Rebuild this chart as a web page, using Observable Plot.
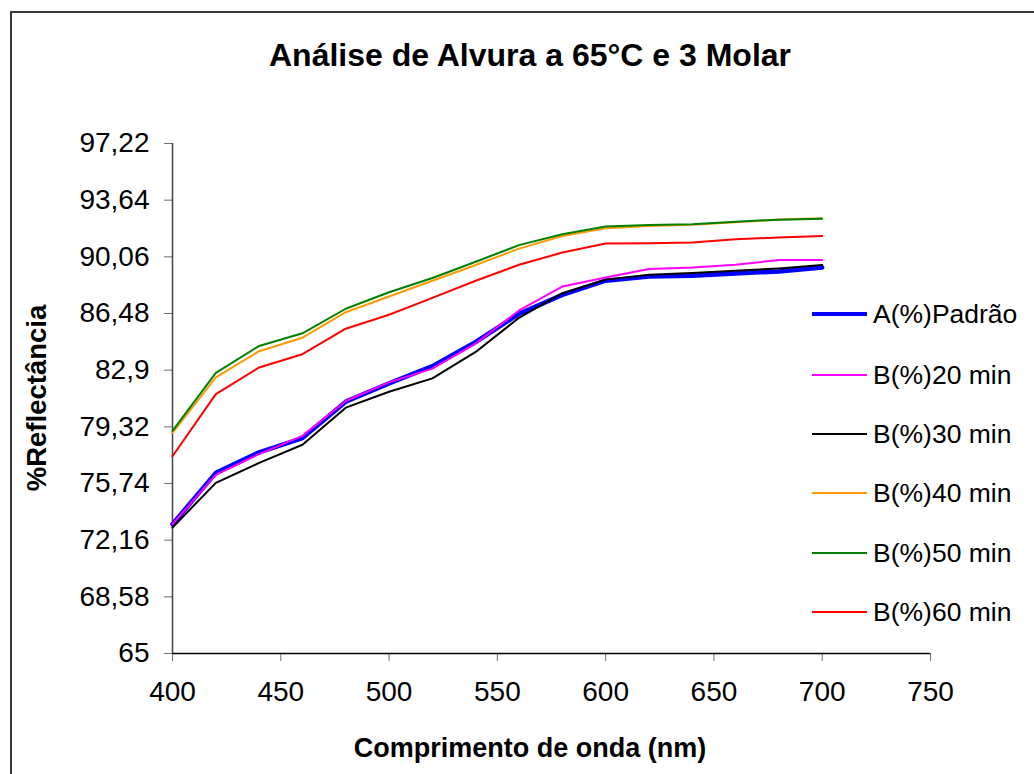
<!DOCTYPE html>
<html>
<head>
<meta charset="utf-8">
<script src="https://cdn.jsdelivr.net/npm/d3@7"></script>
<script src="https://cdn.jsdelivr.net/npm/@observablehq/plot@0.6"></script>
<style>
  html, body { margin: 0; padding: 0; background: #fff; overflow: hidden; }
  #wrap { position: relative; width: 1034px; height: 774px; font-family: "Liberation Sans", Arial, sans-serif; color: #000; }
  #wrap svg { position: absolute; left: 0; top: 0; overflow: visible; }
  .frame { position: absolute; left: 10px; top: 11px; width: 1100px; height: 900px; border: 2px solid #3a3a3a; box-sizing: border-box; pointer-events: none; }
  .title { position: absolute; left: 0; width: 1060px; top: 36px; text-align: center; font-weight: bold; font-size: 32px; line-height: 38px; white-space: nowrap; }
  .xlab { position: absolute; left: 0; width: 1060px; top: 733px; text-align: center; font-weight: bold; font-size: 27px; line-height: 30px; white-space: nowrap; }
  .ylab { position: absolute; left: 37px; top: 398px; transform: translate(-50%, -50%) rotate(-90deg); font-weight: bold; font-size: 27.5px; line-height: 30px; white-space: nowrap; }
  .leg { position: absolute; left: 812px; height: 30px; display: flex; align-items: center; font-size: 26.5px; white-space: nowrap; }
  .leg span.sw { display: inline-block; width: 55px; margin-right: 6px; }
</style>
</head>
<body>
<div id="wrap"></div>
<script>
// ---- data ----
const wavelengths = [400, 420, 440, 460, 480, 500, 520, 540, 560, 580, 600, 620, 640, 660, 680, 700];
const seriesNames = ["A(%)Padrão", "B(%)20 min", "B(%)30 min", "B(%)40 min", "B(%)50 min", "B(%)60 min"];
const seriesColors = ["#0000ff", "#ff00ff", "#000000", "#ff9900", "#008000", "#ff0000"];
const padrao = [73.17, 76.41, 77.71, 78.61, 80.91, 82.07, 83.15, 84.68, 86.46, 87.66, 88.55, 88.81, 88.87, 89.01, 89.14, 89.39];
const b20min = [73.17, 76.29, 77.60, 78.75, 80.95, 82.13, 83.00, 84.58, 86.67, 88.18, 88.76, 89.29, 89.39, 89.56, 89.86, 89.86];
const b30min = [72.96, 75.78, 77.04, 78.19, 80.53, 81.54, 82.38, 84.05, 86.21, 87.76, 88.62, 88.93, 89.04, 89.18, 89.33, 89.54];
const b40min = [78.93, 82.44, 84.10, 84.95, 86.56, 87.55, 88.55, 89.54, 90.58, 91.38, 91.87, 92.00, 92.08, 92.25, 92.42, 92.50];
const b50min = [79.07, 82.73, 84.43, 85.23, 86.78, 87.82, 88.72, 89.75, 90.80, 91.49, 91.97, 92.07, 92.12, 92.28, 92.41, 92.47];
const b60min = [77.46, 81.39, 83.07, 83.91, 85.52, 86.40, 87.47, 88.55, 89.56, 90.33, 90.90, 90.92, 90.96, 91.17, 91.28, 91.38];
const xTicks = [400, 450, 500, 550, 600, 650, 700, 750];
const yTicks = [65, 68.58, 72.16, 75.74, 79.32, 82.9, 86.48, 90.06, 93.64, 97.22];
const yTickLabels = ["65", "68,58", "72,16", "75,74", "79,32", "82,9", "86,48", "90,06", "93,64", "97,22"];
const titleText = "Análise de Alvura a 65°C e 3 Molar";
const xTitle = "Comprimento de onda (nm)";
const yTitle = "%Reflectância";

// ---- build ----
const seriesValues = [padrao, b20min, b30min, b40min, b50min, b60min];
const widths = [4.5, 2, 2, 2, 2, 2];
const legendWidths = [4, 2, 2, 2, 2, 2];
const rows = [];
seriesNames.forEach((name, s) => wavelengths.forEach((w, i) => rows.push({series: name, x: w, y: seriesValues[s][i]})));

const lineMarks = seriesNames.map((name, s) =>
  Plot.line(rows.filter(d => d.series === name), {x: "x", y: "y", stroke: "series", strokeWidth: widths[s], strokeLinejoin: "round"})
);

const chart = Plot.plot({
  width: 1034,
  height: 774,
  marginLeft: 172,
  marginRight: 104,
  marginTop: 143,
  marginBottom: 121,
  style: {fontFamily: "'Liberation Sans', Arial, sans-serif", fontSize: "28px", color: "#000", background: "transparent", overflow: "visible"},
  x: {domain: [400, 750], label: null},
  y: {domain: [65, 97.22], label: null},
  color: {domain: seriesNames, range: seriesColors},
  marks: [
    Plot.axisX({ticks: xTicks, tickSize: 8, tickPadding: 20, stroke: "#6e6e6e", fill: "#000", label: null, fontSize: 28}),
    Plot.axisY({ticks: yTicks, tickFormat: d => yTickLabels[yTicks.indexOf(d)], tickSize: 8, tickPadding: 15, stroke: "#6e6e6e", fill: "#000", label: null, fontSize: 28}),
    Plot.ruleX([400], {stroke: "#444", strokeWidth: 1.5}),
    Plot.ruleY([65], {stroke: "#000", strokeWidth: 1.5}),
    ...lineMarks
  ]
});

const wrap = document.getElementById("wrap");
wrap.appendChild(chart);

const frame = document.createElement("div"); frame.className = "frame"; wrap.appendChild(frame);
const t = document.createElement("div"); t.className = "title"; t.textContent = titleText; wrap.appendChild(t);
const xl = document.createElement("div"); xl.className = "xlab"; xl.textContent = xTitle; wrap.appendChild(xl);
const yl = document.createElement("div"); yl.className = "ylab"; yl.textContent = yTitle; wrap.appendChild(yl);

const legendY = [314, 375, 434, 493, 553, 612];
seriesNames.forEach((name, s) => {
  const row = document.createElement("div");
  row.className = "leg";
  row.style.top = (legendY[s] - 15) + "px";
  const sw = document.createElement("span");
  sw.className = "sw";
  sw.style.height = legendWidths[s] + "px";
  sw.style.background = seriesColors[s];
  row.appendChild(sw);
  const tx = document.createElement("span");
  tx.textContent = name;
  row.appendChild(tx);
  wrap.appendChild(row);
});
</script>
</body>
</html>
